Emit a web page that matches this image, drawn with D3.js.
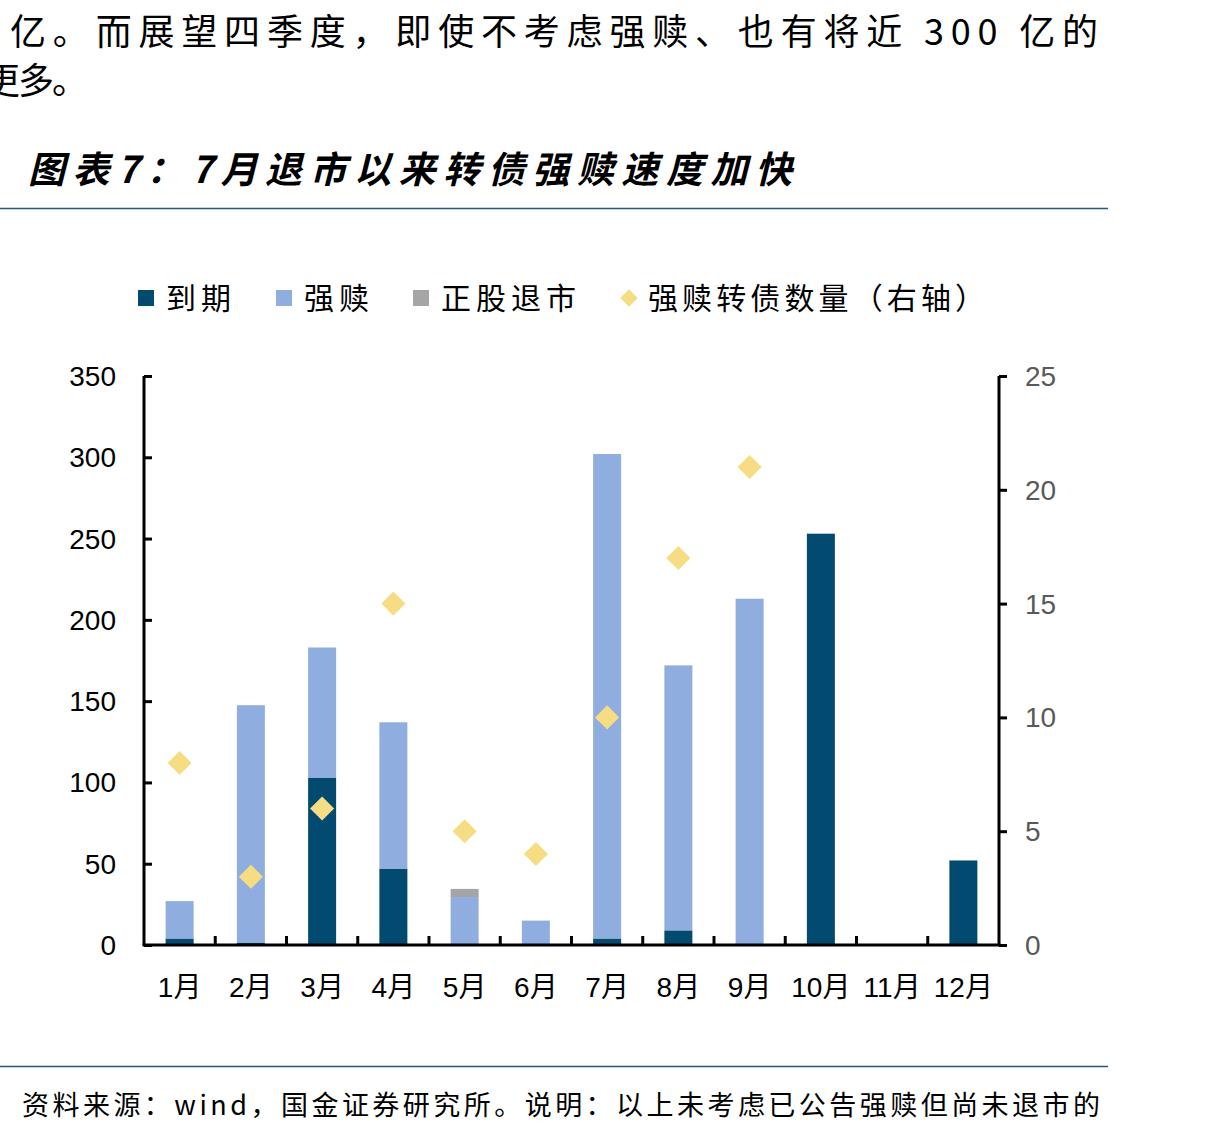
<!DOCTYPE html>
<html>
<head>
<meta charset="utf-8">
<script src="https://cdn.jsdelivr.net/npm/d3@7"></script>
<style>
body { margin: 0; background: #fff; }
svg { display: block; }
.cjk { font-family: "Noto Sans CJK SC", "Noto Sans", sans-serif; }
.num { font-family: "Liberation Sans", Arial, sans-serif; }
</style>
</head>
<body>
<svg id="chart" width="1209" height="1136"></svg>
<script>
// 数据（亿元 / 只）
var months = ["1月","2月","3月","4月","5月","6月","7月","8月","9月","10月","11月","12月"];
var maturity = [4, 1.5, 103, 47, 0, 0, 4, 9, 0, 253, 0, 52];       // 到期
var redeem   = [23, 146, 80, 90, 29.5, 15, 298, 163, 213, 0, 0, 0]; // 强赎
var delist   = [0, 0, 0, 0, 5, 0, 0, 0, 0, 0, 0, 0];                // 正股退市
var redeemCount = [8, 3, 6, 15, 5, 4, 10, 17, 21, null, null, null]; // 强赎转债数量（右轴）
var leftTicks = [0, 50, 100, 150, 200, 250, 300, 350];
var rightTicks = [0, 5, 10, 15, 20, 25];

var colors = { maturity: "#024A70", redeem: "#8FADDE", delist: "#A5A5A5", count: "#F6DC82" };

var svg = d3.select("#chart");

var margin = {left: 144, right: 999, top: 376, bottom: 945};

var x = d3.scaleBand().domain(months).range([margin.left, margin.right]).paddingInner(0).paddingOuter(0);
var y = d3.scaleLinear().domain([0, 350]).range([margin.bottom, margin.top]);
var y2 = d3.scaleLinear().domain([0, 25]).range([margin.bottom, margin.top]);

// 正文片段
svg.append("text").attr("class", "cjk")
.attr("x", 10).attr("y", 45)
.attr("font-size", 36).attr("fill", "#000")
.attr("textLength", 1088).attr("lengthAdjust", "spacing")
.text("亿。而展望四季度，即使不考虑强赎、也有将近 300 亿的");
svg.append("text").attr("class", "cjk")
.attr("x", -16).attr("y", 94)
.attr("font-size", 36).attr("fill", "#000")
.attr("textLength", 104).attr("lengthAdjust", "spacing")
.text("更多。");

// 标题
svg.append("text").attr("class", "cjk")
.attr("x", 28).attr("y", 183)
.attr("font-size", 37).attr("font-weight", "bold").attr("font-style", "italic")
.attr("fill", "#000")
.attr("textLength", 764).attr("lengthAdjust", "spacing")
.text("图表7：7月退市以来转债强赎速度加快");

svg.append("line").attr("x1", 0).attr("x2", 1108).attr("y1", 208.5).attr("y2", 208.5)
.attr("stroke", "#1F5A7A").attr("stroke-width", 1.5);
svg.append("line").attr("x1", 0).attr("x2", 1108).attr("y1", 1066.5).attr("y2", 1066.5)
.attr("stroke", "#1F5A7A").attr("stroke-width", 1.5);

// 图例
var legend = [
	{label: "到期", color: colors.maturity, x: 138, shape: "rect", len: 65},
	{label: "强赎", color: colors.redeem, x: 276, shape: "rect", len: 65},
	{label: "正股退市", color: colors.delist, x: 413, shape: "rect", len: 135},
	{label: "强赎转债数量（右轴）", color: colors.count, x: 620, shape: "diamond", len: 337}
];
var lg = svg.append("g").selectAll("g").data(legend).enter().append("g");
lg.filter(function(d){ return d.shape === "rect"; }).append("rect")
.attr("x", function(d){ return d.x; }).attr("y", 290)
.attr("width", 16).attr("height", 16)
.attr("fill", function(d){ return d.color; });
lg.filter(function(d){ return d.shape === "diamond"; }).append("path")
.attr("d", d3.symbol().type(d3.symbolSquare).size(150))
.attr("transform", function(d){ return "translate(" + (d.x + 9) + ",298) rotate(45)"; })
.attr("fill", function(d){ return d.color; });
lg.append("text").attr("class", "cjk")
.attr("x", function(d){ return d.x + 28; })
.attr("y", 309).attr("font-size", 30).attr("fill", "#000")
.attr("textLength", function(d){ return d.len; }).attr("lengthAdjust", "spacing")
.text(function(d){ return d.label; });

// 堆叠柱
var rows = months.map(function(m, i){
	return {month: m, maturity: maturity[i], redeem: redeem[i], delist: delist[i]};
});
var stack = d3.stack().keys(["maturity", "redeem", "delist"])(rows);
var barW = 28;

svg.append("g").selectAll("g").data(stack).enter().append("g")
.attr("fill", function(d){ return colors[d.key]; })
.selectAll("rect").data(function(d){ return d; }).enter().append("rect")
.attr("x", function(d){ return x(d.data.month) + x.bandwidth() / 2 - barW / 2; })
.attr("y", function(d){ return y(d[1]); })
.attr("width", barW)
.attr("height", function(d){ return Math.max(0, y(d[0]) - y(d[1])); });

// 菱形点（右轴）
svg.append("g").selectAll("path")
.data(redeemCount.map(function(v, i){ return {m: months[i], v: v}; }).filter(function(d){ return d.v !== null; }))
.enter().append("path")
.attr("d", d3.symbol().type(d3.symbolSquare).size(290))
.attr("transform", function(d){ return "translate(" + (x(d.m) + x.bandwidth() / 2) + "," + y2(d.v) + ") rotate(45)"; })
.attr("fill", colors.count);

// 坐标轴
var axisColor = "#000";

var gl = svg.append("g").attr("transform", "translate(" + margin.left + ",0)")
.call(d3.axisRight(y).tickValues(leftTicks).tickSize(8).tickFormat(""));
gl.select(".domain").attr("stroke", axisColor).attr("stroke-width", 3).attr("d", "M0," + margin.top + "V" + margin.bottom);
gl.selectAll(".tick line").attr("stroke", axisColor).attr("stroke-width", 3);

svg.append("g").selectAll("text").data(leftTicks).enter().append("text").attr("class", "num")
.attr("x", 116).attr("y", function(d){ return y(d) + 10; })
.attr("text-anchor", "end").attr("font-size", 28).attr("fill", "#000")
.text(function(d){ return d; });

var gr = svg.append("g").attr("transform", "translate(" + margin.right + ",0)")
.call(d3.axisRight(y2).tickValues(rightTicks).tickSize(8).tickFormat(""));
gr.select(".domain").attr("stroke", axisColor).attr("stroke-width", 3).attr("d", "M0," + margin.top + "V" + margin.bottom);
gr.selectAll(".tick line").attr("stroke", axisColor).attr("stroke-width", 3);

svg.append("g").selectAll("text").data(rightTicks).enter().append("text").attr("class", "num")
.attr("x", 1025).attr("y", function(d){ return y2(d) + 10; })
.attr("text-anchor", "start").attr("font-size", 28).attr("fill", "#595959")
.text(function(d){ return d; });

// 横轴
svg.append("line").attr("x1", margin.left - 1.5).attr("x2", margin.right + 1.5)
.attr("y1", margin.bottom).attr("y2", margin.bottom)
.attr("stroke", axisColor).attr("stroke-width", 3);
svg.append("g").selectAll("line").data(months.slice(1)).enter().append("line")
.attr("x1", function(d){ return x(d); }).attr("x2", function(d){ return x(d); })
.attr("y1", margin.bottom).attr("y2", margin.bottom - 9)
.attr("stroke", axisColor).attr("stroke-width", 3);

svg.append("g").selectAll("text").data(months).enter().append("text")
.attr("x", function(d){ return x(d) + x.bandwidth() / 2; })
.attr("y", 997).attr("text-anchor", "middle").attr("font-size", 28).attr("fill", "#000")
.each(function(d){
	var t = d3.select(this);
	t.append("tspan").attr("class", "num").text(d.replace("月", ""));
	t.append("tspan").attr("class", "cjk").text("月");
});

// 资料来源
svg.append("text").attr("class", "cjk")
.attr("x", 22).attr("y", 1115).attr("font-size", 27).attr("fill", "#000")
.attr("textLength", 1078).attr("lengthAdjust", "spacing")
.text("资料来源：wind，国金证券研究所。说明：以上未考虑已公告强赎但尚未退市的");
</script>
</body>
</html>
